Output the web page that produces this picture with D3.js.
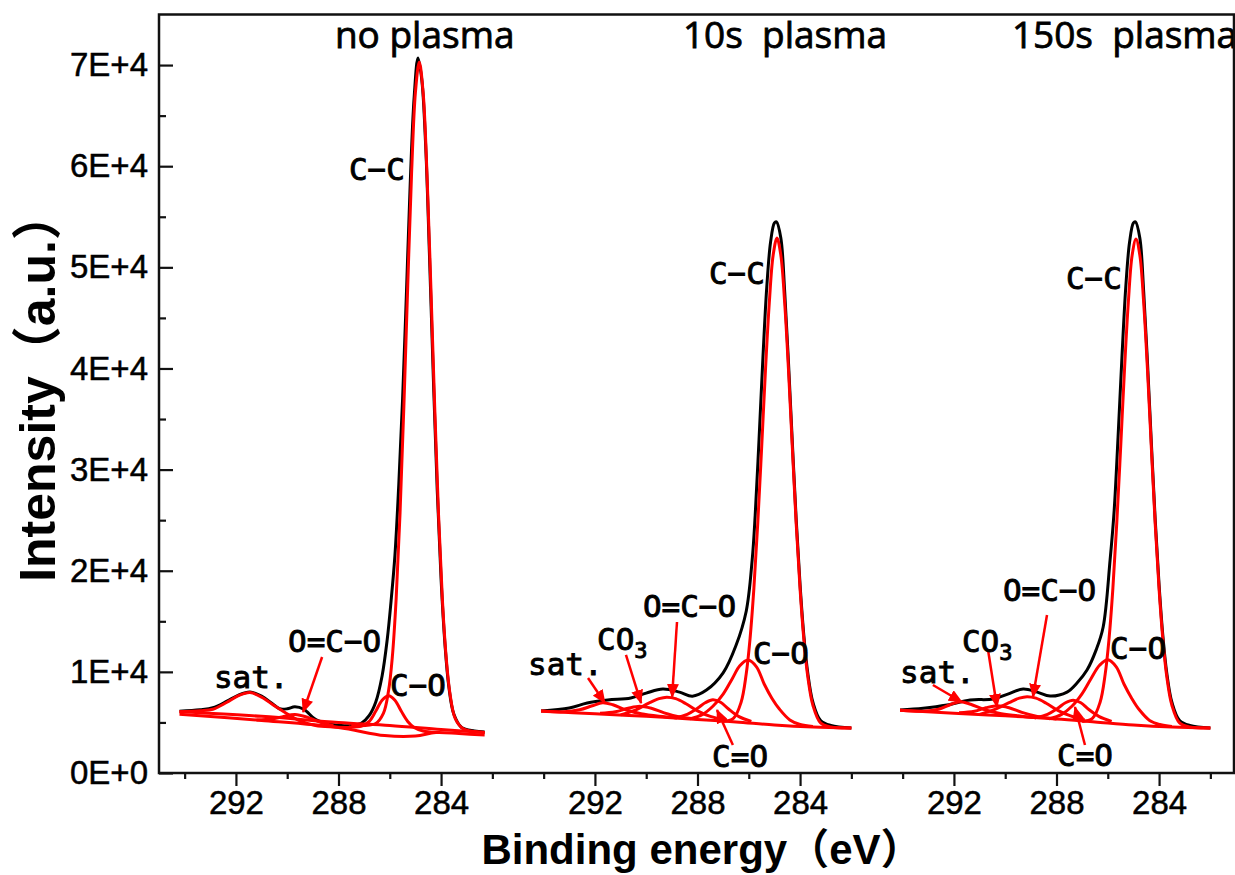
<!DOCTYPE html>
<html>
<head>
<meta charset="utf-8">
<script src="https://cdn.jsdelivr.net/npm/d3@7"></script>
<style>
body { margin: 0; background: #fff; }
svg { display: block; }
</style>
</head>
<body>
<div id="chart"></div>
<script>
// panel titles and axis ticks
var panelNames = ["no plasma", "10s  plasma", "150s  plasma"];
var xMajorTicks = [292, 288, 284];
var xMinorTicks = [294, 290, 286, 282];
var yMajorTicks = [0, 10000, 20000, 30000, 40000, 50000, 60000, 70000];
var yTickLabels = ["0E+0", "1E+4", "2E+4", "3E+4", "4E+4", "5E+4", "6E+4", "7E+4"];
var yMinorTicks = [5000, 15000, 25000, 35000, 45000, 55000, 65000];

// ---- no plasma : [binding energy (eV), intensity]
var env0 = [[294.2,6100],[293.4,6250],[292.9,6450],[292.35,7100],[291.9,7700],[291.45,8000],[291.0,7600],[290.6,6900],[290.3,6350],[290.0,6350],[289.7,6550],[289.35,6300],[288.9,5300],[288.4,4850],[287.9,4700],[287.5,4700],[287.1,4950],[286.8,5700],[286.55,7000],[286.3,9600],[286.1,13200],[285.95,17000],[285.8,21500],[285.65,28500],[285.5,37000],[285.35,47500],[285.2,58500],[285.05,66800],[284.9,70700],[284.75,68500],[284.6,62000],[284.45,51000],[284.3,39000],[284.15,28000],[284.0,19200],[283.85,12800],[283.7,8600],[283.5,5800],[283.2,4500],[282.7,4150],[282.3,4050]];
var cc0 = [[287.5,4700],[286.55,4900],[286.25,5900],[286.05,8100],[285.9,11500],[285.75,17300],[285.6,25700],[285.45,36300],[285.3,48200],[285.15,59300],[285.0,67300],[284.85,70300],[284.7,67300],[284.55,59300],[284.4,48200],[284.25,36300],[284.1,25600],[283.95,17200],[283.8,11400],[283.65,7800],[283.45,5400],[283.15,4400],[282.7,4100],[282.3,4000]];
var co0 = [[287.6,4550],[287.1,4650],[286.8,5100],[286.55,6100],[286.3,7200],[286.05,7650],[285.8,7200],[285.55,6100],[285.3,5100],[285.05,4500],[284.7,4150],[284.2,4000]];
var oco0 = [[291.2,5250],[290.6,5350],[290.2,5550],[289.7,5780],[289.2,5500],[288.7,5000],[288.2,4700]];
var sat0 = [[294.2,6050],[293.4,6150],[292.9,6300],[292.35,7000],[291.9,7650],[291.45,7950],[291.0,7500],[290.5,6650],[290.1,6000],[289.5,5150],[288.9,4700],[288.2,4550],[287.5,4500]];
var bgA0 = [[294.2,6050],[291,5600],[288,5000],[286,4700],[284,4300],[282.3,4000]];
var bgB0 = [[294.2,5800],[291,5200],[288,4500],[286.2,3700],[285,3650],[284.2,4000],[283.3,3900],[282.3,3750]];

// ---- 10s plasma
var env1 = [[294.1,6130],[293.0,6430],[292.3,6920],[291.5,7220],[290.6,7420],[290.0,7900],[289.35,8300],[288.7,8000],[288.2,7600],[287.65,8200],[287.0,9900],[286.5,12600],[286.1,16000],[285.87,21000],[285.75,25500],[285.6,33000],[285.45,41000],[285.3,48000],[285.15,52500],[285.0,54400],[284.92,54500],[284.75,52900],[284.6,47600],[284.45,40500],[284.3,32600],[284.15,25000],[284.0,18600],[283.85,13500],[283.7,9900],[283.5,7000],[283.2,5200],[282.8,4700],[282.0,4450]];
var cc1 = [[287.0,5100],[286.6,5400],[286.3,7000],[286.1,9800],[285.95,13300],[285.8,18300],[285.65,24700],[285.5,32100],[285.35,39800],[285.2,46500],[285.05,51200],[284.9,52900],[284.75,51200],[284.6,46500],[284.45,39800],[284.3,32100],[284.15,24600],[284.0,18200],[283.85,13150],[283.7,9550],[283.5,6700],[283.2,4950],[282.8,4550],[282.0,4450]];
var co1 = [[288.3,5350],[287.8,5800],[287.4,6600],[287.0,7800],[286.65,9300],[286.35,10600],[286.03,11170],[285.7,10500],[285.4,8800],[285.1,7400],[284.8,6300],[284.4,5250],[284.0,4800],[283.5,4600]];
var cdo1 = [[288.9,5450],[288.4,5800],[288.0,6400],[287.7,6950],[287.4,7250],[287.1,7000],[286.8,6350],[286.4,5600],[285.9,5100]];
var oco1 = [[291.0,5750],[290.4,6250],[289.9,6900],[289.5,7350],[289.2,7500],[288.85,7350],[288.45,6850],[288.0,6150],[287.5,5600],[286.9,5250]];
var carb1 = [[291.8,5900],[291.2,6050],[290.7,6400],[290.25,6600],[289.8,6400],[289.3,5950],[288.7,5550],[288.0,5350]];
var sat1 = [[294.1,6130],[293.2,6050],[292.6,6250],[292.1,6650],[291.7,6950],[291.3,6750],[290.8,6250],[290.2,5850],[289.5,5600],[288.8,5450]];
var bg1 = [[294.1,6130],[292,5850],[290,5600],[288,5300],[286.5,5050],[285,4750],[283.5,4550],[282,4450]];

// ---- 150s plasma
var env2 = [[294.1,6230],[293.2,6400],[292.27,6720],[291.37,7220],[290.47,7310],[289.9,7800],[289.3,8300],[288.75,8000],[288.25,7610],[287.59,8000],[287.2,8900],[286.81,10180],[286.45,12200],[286.18,14440],[285.91,21060],[285.75,26000],[285.6,33200],[285.45,41000],[285.3,48000],[285.15,52500],[285.0,54400],[284.92,54500],[284.75,52900],[284.6,47600],[284.45,40500],[284.3,32600],[284.15,25000],[284.0,18600],[283.85,13500],[283.7,9900],[283.5,7000],[283.2,5200],[282.8,4700],[282.0,4450]];
var cc2 = [[287.0,5100],[286.6,5400],[286.3,7000],[286.1,9800],[285.95,13300],[285.8,18300],[285.65,24700],[285.5,32100],[285.35,39800],[285.2,46500],[285.05,51200],[284.9,52800],[284.75,51200],[284.6,46500],[284.45,39800],[284.3,32100],[284.15,24600],[284.0,18200],[283.85,13150],[283.7,9550],[283.5,6700],[283.2,4950],[282.8,4550],[282.0,4450]];
var co2 = [[288.3,5350],[287.8,5800],[287.4,6600],[287.0,7850],[286.65,9350],[286.32,10650],[286.0,11200],[285.67,10500],[285.37,8800],[285.07,7400],[284.77,6250],[284.37,5200],[283.97,4800],[283.5,4600]];
var cdo2 = [[288.85,5450],[288.35,5800],[287.95,6400],[287.65,6950],[287.35,7200],[287.05,6950],[286.75,6300],[286.35,5600],[285.85,5100]];
var oco2 = [[291.0,5800],[290.4,6300],[289.85,6950],[289.45,7400],[289.15,7550],[288.8,7400],[288.4,6900],[287.95,6200],[287.45,5650],[286.9,5250]];
var carb2 = [[291.8,5950],[291.2,6100],[290.75,6450],[290.3,6650],[289.85,6450],[289.35,6000],[288.75,5600],[288.0,5350]];
var sat2 = [[294.1,6200],[293.2,6100],[292.6,6300],[292.15,6750],[291.75,7050],[291.35,6800],[290.85,6300],[290.25,5900],[289.5,5650],[288.8,5450]];
var bg2 = [[294.1,6200],[292,5900],[290,5650],[288,5350],[286.5,5050],[285,4750],[283.5,4550],[282,4450]];

// peak labels [text, eV, intensity, anchor] and arrows [eV from, int from, eV to, int to]
var labels0 = [["C−C",285.41,58600,"end"],["sat.",292.86,8400,"start"],["O=C−O",289.97,12000,"start"],["C−O",285.99,7600,"start"]];
var arrows0 = [[288.64,11470,289.38,6030]];
var labels1 = [["C−C",285.37,48400,"end"],["sat.",294.61,9700,"start"],["CO3",291.92,12160,"start"],["O=C−O",290.13,15430,"start"],["C−O",285.84,10780,"start"],["C=O",287.43,600,"start"]];
var arrows1 = [[292.27,9390,291.61,6920],[290.79,11670,290.2,6920],[288.8,14930,288.99,7520],[286.62,2770,287.24,6230]];
var labels2 = [["C−C",285.45,47860,"end"],["sat.",294.1,8900,"start"],["CO3",291.69,11970,"start"],["O=C−O",290.09,17000,"start"],["C−O",285.91,11270,"start"],["C=O",287.98,690,"start"]];
var arrows2 = [[292.82,8700,291.69,7020],[290.67,12160,290.32,6530],[288.37,15620,288.92,7520],[286.89,2770,287.28,6530]];
var titleStart = [288.14, 288.57, 289.74];

var panels = [
   { env: env0, comps: [bgB0, bgA0, sat0, oco0, co0, cc0], labels: labels0, arrows: arrows0 },
   { env: env1, comps: [bg1, sat1, carb1, oco1, cdo1, co1, cc1], labels: labels1, arrows: arrows1 },
   { env: env2, comps: [bg2, sat2, carb2, oco2, cdo2, co2, cc2], labels: labels2, arrows: arrows2 }
];

var width = 1235;
var height = 875;
var plotLeft = 159;
var plotTop = 14.5;
var plotBottom = 773;
var plotRight = 1234;
var panelWidth = 359;

var tickFont = "'Liberation Sans', Arial, sans-serif";
var labelFont = "'DejaVu Sans Mono', monospace";

var svg = d3.select("#chart")
   .append("svg")
   .attr("width", width)
   .attr("height", height);

svg.append("rect")
   .attr("width", width)
   .attr("height", height)
   .attr("fill", "#fff");

svg.append("defs")
   .append("marker")
   .attr("id", "arrowhead")
   .attr("viewBox", "0 0 14 12")
   .attr("refX", 13)
   .attr("refY", 6)
   .attr("markerWidth", 14)
   .attr("markerHeight", 12)
   .attr("markerUnits", "userSpaceOnUse")
   .attr("orient", "auto")
   .append("path")
   .attr("d", "M0,0L14,6L0,12z")
   .attr("fill", "#ff0000");

var y = d3.scaleLinear()
   .domain([0, 75000])
   .range([plotBottom, plotTop]);

var xs = panels.map(function(d, i) {
   return d3.scaleLinear()
      .domain([295, 281])
      .range([plotLeft + i * panelWidth, plotLeft + (i + 1) * panelWidth]);
});

// y axis, ticks pointing in
var yAxis = svg.append("g")
   .attr("transform", "translate(" + plotLeft + ",0)")
   .call(d3.axisLeft(y).tickValues(yMajorTicks).tickSize(-14).tickPadding(11)
      .tickFormat(function(d, i) { return yTickLabels[i]; }));
yAxis.append("g")
   .call(d3.axisLeft(y).tickValues(yMinorTicks).tickSize(-7).tickFormat(""));
yAxis.selectAll(".domain").remove();
yAxis.selectAll("line").attr("stroke", "#111").attr("stroke-width", 2.2);
yAxis.selectAll("text")
   .attr("font-family", tickFont)
   .attr("font-size", 33)
   .attr("fill", "#000")
   .attr("stroke", "#000")
   .attr("stroke-width", 0.5);

panels.forEach(function(p, i) {
   var x = xs[i];

   var xAxis = svg.append("g")
      .attr("transform", "translate(0," + plotBottom + ")")
      .call(d3.axisBottom(x).tickValues(xMajorTicks).tickSize(13).tickSizeOuter(0).tickPadding(5)
         .tickFormat(d3.format("d")));
   xAxis.append("g")
      .call(d3.axisBottom(x).tickValues(xMinorTicks).tickSize(6).tickSizeOuter(0).tickFormat(""));
   xAxis.selectAll(".domain").remove();
   xAxis.selectAll("line").attr("stroke", "#111").attr("stroke-width", 2.2);
   xAxis.selectAll("text")
      .attr("font-family", tickFont)
      .attr("font-size", 33)
      .attr("fill", "#000")
      .attr("stroke", "#000")
      .attr("stroke-width", 0.5);

   var line = d3.line()
      .x(function(d) { return x(d[0]); })
      .y(function(d) { return y(d[1]); })
      .curve(d3.curveCatmullRom.alpha(0.5));

   var g = svg.append("g");

   g.append("path")
      .attr("d", line(p.env))
      .attr("fill", "none")
      .attr("stroke", "#000")
      .attr("stroke-width", 3);

   g.selectAll(".comp")
      .data(p.comps)
      .enter()
      .append("path")
      .attr("class", "comp")
      .attr("d", function(d) { return line(d); })
      .attr("fill", "none")
      .attr("stroke", "#ff0000")
      .attr("stroke-width", 3)
      .attr("stroke-linejoin", "round");

   g.selectAll(".arrow")
      .data(p.arrows)
      .enter()
      .append("line")
      .attr("class", "arrow")
      .attr("x1", function(d) { return x(d[0]); })
      .attr("y1", function(d) { return y(d[1]); })
      .attr("x2", function(d) { return x(d[2]); })
      .attr("y2", function(d) { return y(d[3]); })
      .attr("stroke", "#ff0000")
      .attr("stroke-width", 2.5)
      .attr("marker-end", "url(#arrowhead)");

   var lab = g.selectAll(".lab")
      .data(p.labels)
      .enter()
      .append("text")
      .attr("class", "lab")
      .attr("x", function(d) { return x(d[1]); })
      .attr("y", function(d) { return y(d[2]); })
      .attr("text-anchor", function(d) { return d[3]; })
      .attr("font-family", labelFont)
      .attr("font-size", 31)
      .attr("fill", "#000")
      .attr("stroke", "#000")
      .attr("stroke-width", 0.9);
   lab.each(function(d) {
      var t = d3.select(this);
      if (d[0] === "CO3") {
         t.append("tspan").text("CO");
         t.append("tspan").attr("font-size", 22).attr("dy", 8).text("3");
      } else {
         t.text(d[0]);
      }
   });

   svg.append("text")
      .attr("x", x(titleStart[i]))
      .attr("y", 48)
      .attr("font-family", "'Open Sans', sans-serif")
      .attr("font-size", 37)
      .attr("fill", "#000")
      .attr("stroke", "#000")
      .attr("stroke-width", 0.8)
      .style("white-space", "pre")
      .text(panelNames[i]);
});

// frame
svg.append("rect")
   .attr("x", plotLeft)
   .attr("y", plotTop)
   .attr("width", plotRight - plotLeft)
   .attr("height", plotBottom - plotTop)
   .attr("fill", "none")
   .attr("stroke", "#111")
   .attr("stroke-width", 2.5);

svg.append("text")
   .attr("transform", "translate(55,386) rotate(-90)")
   .attr("text-anchor", "middle")
   .attr("font-family", "'Liberation Sans', 'Noto Sans CJK SC', sans-serif")
   .attr("font-weight", "bold")
   .attr("font-size", 50)
   .attr("fill", "#000")
   .text("Intensity（a.u.）");

svg.append("text")
   .attr("x", 702)
   .attr("y", 864)
   .attr("text-anchor", "middle")
   .attr("font-family", "'Liberation Sans', 'Noto Sans CJK SC', sans-serif")
   .attr("font-weight", "bold")
   .attr("font-size", 42)
   .attr("fill", "#000")
   .text("Binding energy（eV）");
</script>
</body>
</html>
